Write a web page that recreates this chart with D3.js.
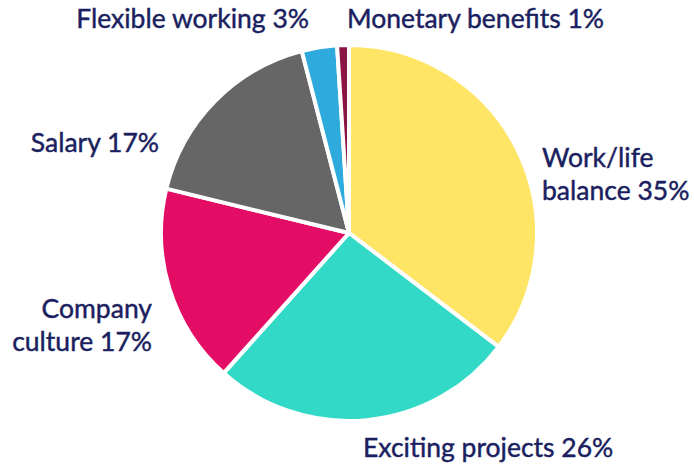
<!DOCTYPE html>
<html><head><meta charset="utf-8">
<script src="https://cdn.jsdelivr.net/npm/d3@7"></script>
<style>body{margin:0;background:#fff}svg{display:block}</style>
</head><body>
<script>
const categories = ["Work/life balance", "Exciting projects", "Company culture", "Salary", "Flexible working", "Monetary benefits"];
const values = [35, 26, 17, 17, 3, 1];
const colors = ["#FFE566", "#33D9C7", "#E30D66", "#666666", "#2EAADC", "#8B1445"];
const labelLines = [["Work/life", "balance 35%"], ["Exciting projects 26%"], ["Company", "culture 17%"], ["Salary 17%"], ["Flexible working 3%"], ["Monetary benefits 1%"]];

const W = 694, H = 466, cx = 349, cy = 233, R = 188;
// label layout: offset from centre, anchor
const labelLayout = [
  {dx: 193, dy: -66, anchor: "start"},
  {dx: 14, dy: 224, anchor: "start"},
  {dx: -197, dy: 85, anchor: "end"},
  {dx: -190, dy: -81, anchor: "end"},
  {dx: -40, dy: -205, anchor: "end"},
  {dx: -2, dy: -205, anchor: "start"}
];

const svg = d3.select("body").append("svg").attr("width", W).attr("height", H);
const data = categories.map((c, i) => ({c, v: values[i], i}));
const pie = d3.pie().value(d => d.v).sort(null);
const arc = d3.arc().innerRadius(0).outerRadius(R);
const g = svg.append("g").attr("transform", `translate(${cx},${cy})`);
g.selectAll("path").data(pie(data)).join("path")
  .attr("d", arc).attr("fill", d => colors[d.data.i])
  .attr("stroke", "#fff").attr("stroke-width", 4).attr("stroke-linejoin", "round");

const lh = 33;
g.selectAll("text.lbl").data(data).join("text").attr("class", "lbl")
  .attr("x", d => labelLayout[d.i].dx).attr("y", d => labelLayout[d.i].dy)
  .attr("text-anchor", d => labelLayout[d.i].anchor)
  .attr("font-family", "Lato, sans-serif").attr("font-size", 26.5).attr("fill", "#1B1F5F")
  .attr("stroke", "#1B1F5F").attr("stroke-width", 0.45)
  .each(function(d) {
    const t = d3.select(this);
    labelLines[d.i].forEach((line, k) => {
      t.append("tspan").attr("x", labelLayout[d.i].dx).attr("dy", k === 0 ? 0 : lh).text(line);
    });
  });
</script>
</body></html>
